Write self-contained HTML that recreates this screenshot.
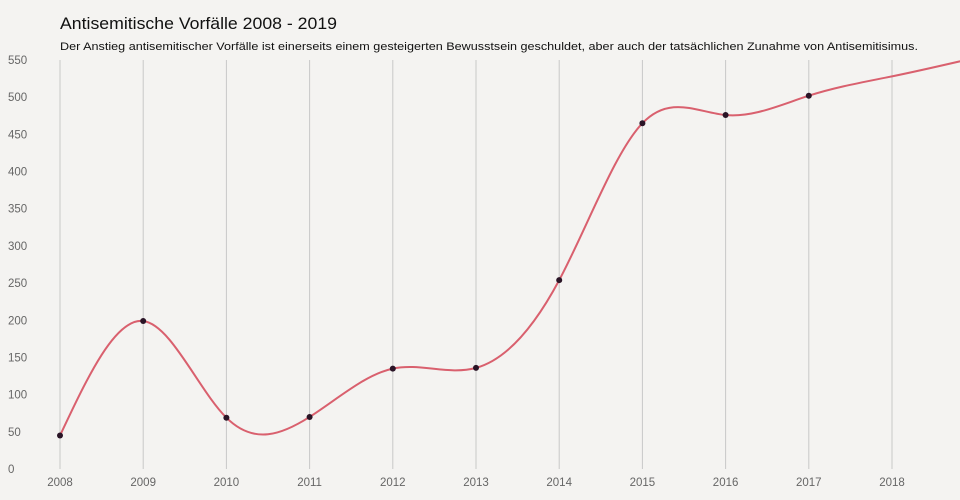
<!DOCTYPE html>
<html><head><meta charset="utf-8"><style>
body{margin:0;background:#f4f3f1;}
svg{display:block;font-family:"Liberation Sans",sans-serif;}
</style></head><body>
<svg id="s" width="960" height="500" xmlns="http://www.w3.org/2000/svg">
<rect width="960" height="500" fill="#f4f3f1"/>
<text x="60" y="29" font-size="17" fill="#111" textLength="277" lengthAdjust="spacingAndGlyphs">Antisemitische Vorfälle 2008 - 2019</text>
<text x="60" y="50" font-size="11" fill="#111" textLength="858" lengthAdjust="spacingAndGlyphs">Der Anstieg antisemitischer Vorfälle ist einerseits einem gesteigerten Bewusstsein geschuldet, aber auch der tatsächlichen Zunahme von Antisemitisimus.</text>
<g id="g"></g>
</svg>
<script>
var g=document.getElementById('g'),h='';
function X(i){return 60+83.2*i}
function Y(v){return 469-v*0.7436}
for(var i=0;i<=11;i++){var x=X(i);if(x<=960)h+='<line x1="'+x+'" y1="60" x2="'+x+'" y2="469" stroke="#c8c8c8" stroke-width="1"/>';
 if(i<=10)h+='<text x="'+x+'" y="486" font-size="11.5" fill="#666" text-anchor="middle">'+(2008+i)+'</text>';}
for(var v=0;v<=550;v+=50)h+='<text x="8" y="'+(Y(v)+4)+'" font-size="11.5" fill="#666">'+v+'</text>';
var d=[45,199,69,70,135,136,254,465,476,502,528,553];
var xs=d.map(function(v,i){return X(i)}),ys=d.map(Y);
function cp(x){var i,n=x.length-1,m,a=new Array(n),b=new Array(n),r=new Array(n);
a[0]=0;b[0]=2;r[0]=x[0]+2*x[1];
for(i=1;i<n-1;++i){a[i]=1;b[i]=4;r[i]=4*x[i]+2*x[i+1];}
a[n-1]=2;b[n-1]=7;r[n-1]=8*x[n-1]+x[n];
for(i=1;i<n;++i){m=a[i]/b[i-1];b[i]-=m;r[i]-=m*r[i-1];}
a[n-1]=r[n-1]/b[n-1];
for(i=n-2;i>=0;--i)a[i]=(r[i]-a[i+1])/b[i];
b[n-1]=(x[n]+a[n-1])/2;
for(i=0;i<n-1;++i)b[i]=2*x[i+1]-a[i+1];
return [a,b];}
var px=cp(xs),py=cp(ys);
var s='M'+xs[0]+','+ys[0];
for(var i=0;i<xs.length-1;i++)s+=' C'+px[0][i]+','+py[0][i]+' '+px[1][i]+','+py[1][i]+' '+xs[i+1]+','+ys[i+1];
h+='<path d="'+s+'" fill="none" stroke="#d9606e" stroke-width="2"/>';
for(var i=0;i<10;i++)h+='<circle cx="'+xs[i]+'" cy="'+ys[i]+'" r="3" fill="#2a1426"/>';
g.innerHTML=h;
</script>
</body></html>
